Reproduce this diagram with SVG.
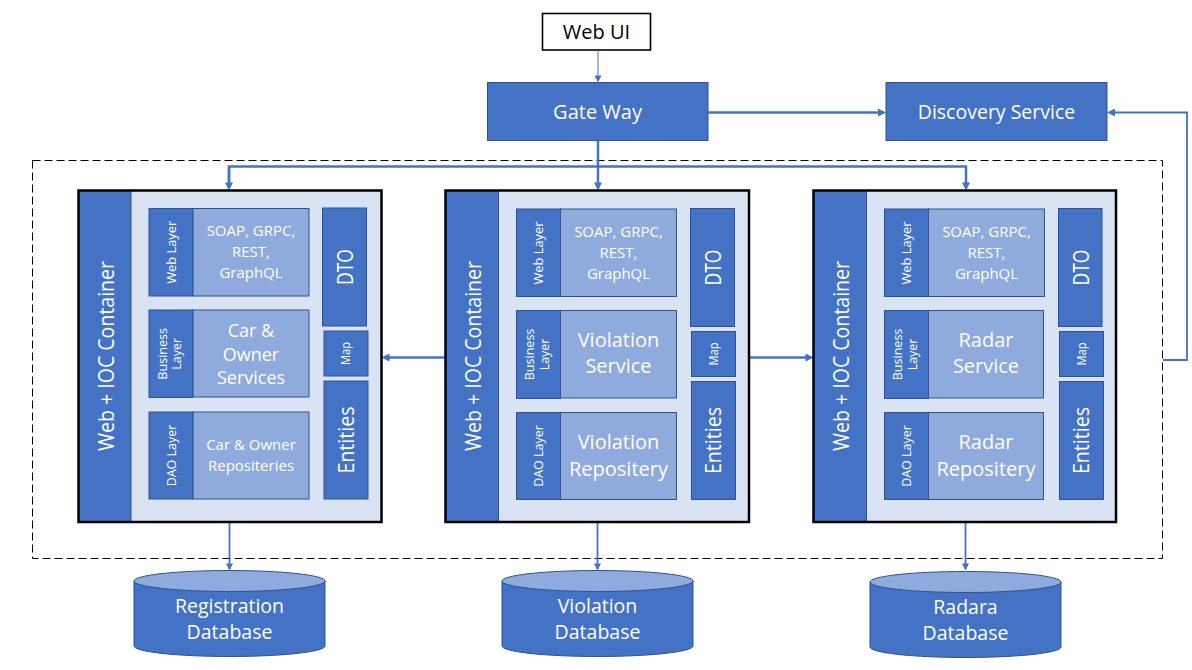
<svg xmlns="http://www.w3.org/2000/svg" width="1192" height="670" viewBox="0 0 1192 670">
<defs>
<style>
text{font-family:"Open Sans","Noto Sans","DejaVu Sans",sans-serif;fill:#fff;text-anchor:middle}
.dark{fill:#4472C4;stroke:#2F528F;stroke-width:1}
.light{fill:#8FAADC;stroke:#2F528F;stroke-width:1}
.bg{fill:#DAE3F3}
.border{fill:none;stroke:#000;stroke-width:2.5}
.conn{fill:none;stroke:#4472C4;stroke-width:2.5}
.thin{fill:none;stroke:#4472C4;stroke-width:1.8}
.hair{fill:none;stroke:#4472C4;stroke-width:1}
.t20{font-size:20px}
.t15{font-size:15px}
.t18{font-size:18px}
.t12{font-size:12.5px}
.t22{font-size:22px}
</style>
<marker id="ah" viewBox="0 0 10 10" refX="6.9" refY="5" markerWidth="8" markerHeight="8" markerUnits="userSpaceOnUse" orient="auto"><path d="M0,0 L10,5 L0,10 z" fill="#4472C4"/></marker>
<marker id="ahs" viewBox="0 0 10 10" refX="8" refY="5" markerWidth="7" markerHeight="7" markerUnits="userSpaceOnUse" orient="auto"><path d="M0,0 L10,5 L0,10 z" fill="#4472C4"/></marker>
</defs>
<rect width="1192" height="670" fill="#fff"/>

<!-- dashed cluster boundary -->
<rect x="32.5" y="160.5" width="1130" height="398" fill="none" stroke="#000" stroke-width="1" stroke-dasharray="8,4"/>

<g id="web-ui">
<rect x="542.5" y="13.5" width="108" height="36.5" fill="#fff" stroke="#000" stroke-width="1.6"/>
<text x="596.5" y="39" class="t20" style="fill:#000">Web UI</text>
</g>

<g id="gateway">
<rect x="487.5" y="82.5" width="220.5" height="58" class="dark"/>
<text x="597.5" y="119" class="t20">Gate Way</text>
</g>

<g id="discovery">
<rect x="886" y="82.5" width="221" height="58" class="dark"/>
<text x="996.5" y="119" style="font-size:19.5px">Discovery Service</text>
</g>

<g id="connectors">
<path class="hair" d="M598,50 L598,81" marker-end="url(#ahs)"/>
<path class="conn" d="M708,112.5 L883.5,112.5" marker-end="url(#ah)"/>
<path class="conn" d="M598,140.5 L598,188" marker-end="url(#ah)"/>
<path class="conn" d="M229,188 L229,166.5 L966,166.5 L966,188" marker-end="url(#ah)"/>
<path class="conn" d="M229,166.5 L229,188" marker-end="url(#ah)"/>
<path class="conn" d="M445.5,357.5 L384,357.5" marker-end="url(#ah)"/>
<path class="conn" d="M749,357.5 L811,357.5" marker-end="url(#ah)"/>
<path class="thin" d="M1163,360 L1187,360 L1187,112.5 L1109.5,112.5" marker-end="url(#ah)"/>
<path class="thin" d="M229.5,522 L229.5,569" marker-end="url(#ahs)"/>
<path class="thin" d="M597.5,522 L597.5,569" marker-end="url(#ahs)"/>
<path class="thin" d="M965.5,522 L965.5,569" marker-end="url(#ahs)"/>
</g>

<!-- Registration service container -->
<g id="registration-service" transform="translate(78.5,0)">
<rect x="0" y="190.5" width="303" height="331.5" class="bg"/>
<rect x="0" y="190.5" width="52.5" height="331.5" class="dark"/>
<text class="t22" transform="translate(35,356) rotate(-90)" textLength="190" lengthAdjust="spacingAndGlyphs">Web + IOC Container</text>
<g id="reg-web-layer">
<rect x="70.5" y="208.5" width="44" height="87.5" class="dark"/>
<text class="t12" transform="translate(97,252.3) rotate(-90)" textLength="63" lengthAdjust="spacingAndGlyphs">Web Layer</text>
<rect x="114.5" y="208.5" width="116" height="87.5" class="light"/>
<text x="172.5" y="236" class="t15">SOAP, GRPC,</text>
<text x="172.5" y="257" class="t15">REST,</text>
<text x="172.5" y="277.7" class="t15">GraphQL</text>
</g>
<g id="reg-business-layer">
<rect x="70.5" y="310" width="44" height="87.5" class="dark"/>
<text class="t12" transform="translate(88,353.8) rotate(-90)" textLength="51.7" lengthAdjust="spacingAndGlyphs">Business</text>
<text class="t12" transform="translate(102.5,353.8) rotate(-90)" textLength="31.7" lengthAdjust="spacingAndGlyphs">Layer</text>
<rect x="114.5" y="310" width="116" height="87" class="light"/>
<text x="172.5" y="336.7" class="t18">Car &amp;</text>
<text x="172.5" y="360.7" class="t18">Owner</text>
<text x="172.5" y="384.3" class="t18">Services</text>
</g>
<g id="reg-dao-layer">
<rect x="70.5" y="412" width="44" height="87" class="dark"/>
<text class="t12" transform="translate(97,455.5) rotate(-90)" textLength="61.7" lengthAdjust="spacingAndGlyphs">DAO Layer</text>
<rect x="114.5" y="412" width="116" height="87" class="light"/>
<text x="172.5" y="450" class="t15">Car &amp; Owner</text>
<text x="172.5" y="470.7" class="t15">Repositeries</text>
</g>
<g id="reg-dto">
<rect x="244" y="208" width="44" height="118" class="dark"/>
<text class="t22" transform="translate(274.5,267) rotate(-90)" textLength="36" lengthAdjust="spacingAndGlyphs">DTO</text>
</g>
<g id="reg-map">
<rect x="245.5" y="331" width="44" height="45" class="dark"/>
<text transform="translate(271.5,353.5) rotate(-90)" style="font-size:12px" textLength="23" lengthAdjust="spacingAndGlyphs">Map</text>
</g>
<g id="reg-entities">
<rect x="245.5" y="381" width="44" height="118" class="dark"/>
<text class="t22" transform="translate(275,440) rotate(-90)" textLength="67" lengthAdjust="spacingAndGlyphs">Entities</text>
</g>
<rect x="0" y="190.5" width="303" height="331.5" class="border"/>
</g>

<!-- Violation service container -->
<g id="violation-service" transform="translate(445.5,0)">
<rect x="0" y="190.5" width="303" height="331.5" class="bg"/>
<rect x="0" y="190.5" width="53" height="331.5" class="dark"/>
<text class="t22" transform="translate(35.5,356) rotate(-90)" textLength="190" lengthAdjust="spacingAndGlyphs">Web + IOC Container</text>
<g id="vio-web-layer">
<rect x="71" y="209" width="44" height="87.5" class="dark"/>
<text class="t12" transform="translate(97.5,253) rotate(-90)" textLength="63" lengthAdjust="spacingAndGlyphs">Web Layer</text>
<rect x="115" y="209" width="116" height="87.5" class="light"/>
<text x="173" y="237" class="t15">SOAP, GRPC,</text>
<text x="173" y="258" class="t15">REST,</text>
<text x="173" y="278.5" class="t15">GraphQL</text>
</g>
<g id="vio-business-layer">
<rect x="71" y="310.5" width="44" height="88" class="dark"/>
<text class="t12" transform="translate(88.5,354.5) rotate(-90)" textLength="51.7" lengthAdjust="spacingAndGlyphs">Business</text>
<text class="t12" transform="translate(103,354.5) rotate(-90)" textLength="31.7" lengthAdjust="spacingAndGlyphs">Layer</text>
<rect x="115" y="310.5" width="116" height="87.5" class="light"/>
<text x="173" y="346.7" class="t20">Violation</text>
<text x="173" y="372.7" class="t20">Service</text>
</g>
<g id="vio-dao-layer">
<rect x="71" y="412.5" width="44" height="87" class="dark"/>
<text class="t12" transform="translate(97.5,456) rotate(-90)" textLength="61.7" lengthAdjust="spacingAndGlyphs">DAO Layer</text>
<rect x="115" y="412.5" width="116" height="87" class="light"/>
<text x="173" y="449.3" class="t20">Violation</text>
<text x="173" y="476" class="t20">Repositery</text>
</g>
<g id="vio-dto">
<rect x="245" y="208.5" width="44" height="118" class="dark"/>
<text class="t22" transform="translate(275.5,267.5) rotate(-90)" textLength="36" lengthAdjust="spacingAndGlyphs">DTO</text>
</g>
<g id="vio-map">
<rect x="246" y="331.5" width="44" height="45" class="dark"/>
<text transform="translate(272,354) rotate(-90)" style="font-size:12px" textLength="23" lengthAdjust="spacingAndGlyphs">Map</text>
</g>
<g id="vio-entities">
<rect x="246" y="381.5" width="44" height="118" class="dark"/>
<text class="t22" transform="translate(275.5,440.5) rotate(-90)" textLength="67" lengthAdjust="spacingAndGlyphs">Entities</text>
</g>
<rect x="0" y="190.5" width="303.5" height="331.5" class="border"/>
</g>

<!-- Radar service container -->
<g id="radar-service" transform="translate(813.5,0)">
<rect x="0" y="190.5" width="303" height="331.5" class="bg"/>
<rect x="0" y="190.5" width="53" height="331.5" class="dark"/>
<text class="t22" transform="translate(35.5,356) rotate(-90)" textLength="190" lengthAdjust="spacingAndGlyphs">Web + IOC Container</text>
<g id="rad-web-layer">
<rect x="71" y="209" width="44" height="87.5" class="dark"/>
<text class="t12" transform="translate(97.5,253) rotate(-90)" textLength="63" lengthAdjust="spacingAndGlyphs">Web Layer</text>
<rect x="115" y="209" width="116" height="87.5" class="light"/>
<text x="173" y="237" class="t15">SOAP, GRPC,</text>
<text x="173" y="258" class="t15">REST,</text>
<text x="173" y="278.5" class="t15">GraphQL</text>
</g>
<g id="rad-business-layer">
<rect x="71" y="310.5" width="44" height="88" class="dark"/>
<text class="t12" transform="translate(88.5,354.5) rotate(-90)" textLength="51.7" lengthAdjust="spacingAndGlyphs">Business</text>
<text class="t12" transform="translate(103,354.5) rotate(-90)" textLength="31.7" lengthAdjust="spacingAndGlyphs">Layer</text>
<rect x="115" y="310.5" width="115" height="87.5" class="light"/>
<text x="172.5" y="346.7" class="t20">Radar</text>
<text x="172.5" y="372.7" class="t20">Service</text>
</g>
<g id="rad-dao-layer">
<rect x="71" y="412.5" width="44" height="87" class="dark"/>
<text class="t12" transform="translate(97.5,456) rotate(-90)" textLength="61.7" lengthAdjust="spacingAndGlyphs">DAO Layer</text>
<rect x="115" y="412.5" width="115" height="87" class="light"/>
<text x="172.5" y="449.3" class="t20">Radar</text>
<text x="172.5" y="476" class="t20">Repositery</text>
</g>
<g id="rad-dto">
<rect x="245" y="208.5" width="43.5" height="118" class="dark"/>
<text class="t22" transform="translate(275,267.5) rotate(-90)" textLength="36" lengthAdjust="spacingAndGlyphs">DTO</text>
</g>
<g id="rad-map">
<rect x="246" y="331.5" width="44" height="45" class="dark"/>
<text transform="translate(272,354) rotate(-90)" style="font-size:12px" textLength="23" lengthAdjust="spacingAndGlyphs">Map</text>
</g>
<g id="rad-entities">
<rect x="246" y="381.5" width="44" height="118" class="dark"/>
<text class="t22" transform="translate(275.5,440.5) rotate(-90)" textLength="67" lengthAdjust="spacingAndGlyphs">Entities</text>
</g>
<rect x="0" y="190.5" width="302.5" height="331.5" class="border"/>
</g>

<!-- Databases -->
<g id="registration-db">
<path d="M134,581 L134,646 A95.5,10.5 0 0 0 325,646 L325,581 Z" class="dark"/>
<ellipse cx="229.5" cy="581" rx="95.5" ry="10.5" class="light"/>
<text x="229.5" y="612.7" style="font-size:19.5px">Registration</text>
<text x="229.5" y="639" style="font-size:19.5px">Database</text>
</g>
<g id="violation-db">
<path d="M502,581 L502,646 A95.5,10.5 0 0 0 693,646 L693,581 Z" class="dark"/>
<ellipse cx="597.5" cy="581" rx="95.5" ry="10.5" class="light"/>
<text x="597.5" y="612.7" style="font-size:19.5px">Violation</text>
<text x="597.5" y="639" style="font-size:19.5px">Database</text>
</g>
<g id="radar-db">
<path d="M870,582 L870,647 A95.5,10.5 0 0 0 1061,647 L1061,582 Z" class="dark"/>
<ellipse cx="965.5" cy="582" rx="95.5" ry="10.5" class="light"/>
<text x="965.5" y="613.7" style="font-size:19.5px">Radara</text>
<text x="965.5" y="640" style="font-size:19.5px">Database</text>
</g>
</svg>
